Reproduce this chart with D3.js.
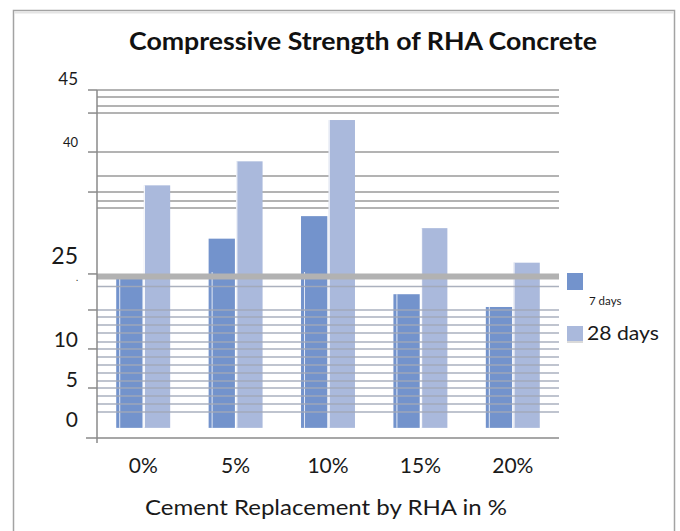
<!DOCTYPE html>
<html><head><meta charset="utf-8">
<script src="https://cdn.jsdelivr.net/npm/d3@7"></script>
<style>body{margin:0;background:#fff}svg{display:block}text{font-family:Lato,"Open Sans",sans-serif}</style>
</head><body>
<svg id="c" width="680" height="531"></svg>
<script>
// ---- data ----
const categories = ["0%", "5%", "10%", "15%", "20%"];
const seriesNames = ["7 days", "28 days"];
const days7 = [20.3, 25.2, 28.2, 17.8, 16.1];
const days28 = [32.3, 35.5, 41.0, 26.6, 22.0];
// tick labels as printed on the (irregular) axis, and the value each sits at
const yTickLabels = ["45", "40", "25", ".", "10", "5", "0"];
const yTickLabelAt = [45.66, 37.4, 21.8, 19.5, 10.8, 5.45, 0.1];
// gridline values (irregular, as in the picture)
const upperGrid = [45, 44.06, 42.86, 41.93, 36.74, 33.54, 31.41, 30.21, 29.28];
const lowerGrid = [18.83, 15.70, 14.77, 13.70, 12.64, 11.44, 10.51, 9.44, 8.38, 7.32, 6.25, 5.31, 4.25, 3.18, 2.12];
const thickLine = [20.16];
const tickMarks = [45, 41.93, 36.74, 31.41, 20.5, 15.70, 10.51, 5.31];
const yMin = -1.35, yMax = 45;

// ---- styles ----
const labelSizes = [17, 13, 23, 9, 21, 21, 21];
const colors = ["#7393cc", "#aab9dc"];

const svg = d3.select("#c");
const L = 97, R = 559, T = 90, B = 438;
const x = d3.scaleBand().domain(categories).range([L, R]).paddingInner(0.416).paddingOuter(0.208);
const xs = d3.scaleBand().domain(seriesNames).range([0, x.bandwidth()]).paddingInner(0.05);
const y = d3.scaleLinear().domain([yMin, yMax]).range([B, T]);

// outer frame
svg.append("rect").attr("x", 13.5).attr("y", 10.5).attr("width", 661).attr("height", 540)
  .attr("fill", "#fff").attr("stroke", "#a3a3a3").attr("stroke-width", 1.5);
svg.append("line").attr("x1", 14).attr("x2", 674).attr("y1", 12.5).attr("y2", 12.5)
  .attr("stroke", "#e4e4e4").attr("stroke-width", 2);

// title
svg.append("text").attr("x", 363).attr("y", 50).attr("text-anchor", "middle")
  .attr("font-weight", "bold").attr("font-size", 25).attr("fill", "#111")
  .attr("textLength", 468).attr("lengthAdjust", "spacingAndGlyphs")
  .text("Compressive Strength of RHA Concrete");

// upper gridlines (behind bars)
svg.append("g").selectAll("line").data(upperGrid).join("line")
  .attr("x1", L).attr("x2", R).attr("y1", d => y(d)).attr("y2", d => y(d))
  .attr("stroke", "#9a9a9a").attr("stroke-width", 1.5);

// bars
const data = categories.map((c, i) => ({ c, vals: [days7[i], days28[i]] }));
const g = svg.append("g").selectAll("g").data(data).join("g")
  .attr("transform", d => `translate(${x(d.c)},0)`);
g.selectAll("rect").data(d => d.vals.map((v, k) => ({ k, v }))).join("rect")
  .attr("x", d => xs(seriesNames[d.k])).attr("width", xs.bandwidth())
  .attr("y", d => y(d.v)).attr("height", d => y(0) - y(d.v))
  .attr("fill", d => colors[d.k]);

// lower gridlines (over bars)
svg.append("g").selectAll("line").data(lowerGrid).join("line")
  .attr("x1", L).attr("x2", R).attr("y1", d => y(d)).attr("y2", d => y(d))
  .attr("stroke", "#a2a9b8").attr("stroke-width", 1.5).attr("opacity", 0.9);

// thick line
svg.append("g").selectAll("line").data(thickLine).join("line")
  .attr("x1", L).attr("x2", R).attr("y1", d => y(d)).attr("y2", d => y(d))
  .attr("stroke", "#b2b2b2").attr("stroke-width", 6);

// white highlight lines on bars
g.append("line")
  .attr("x1", xs(seriesNames[1]) + 0.5).attr("x2", xs(seriesNames[1]) + 0.5)
  .attr("y1", d => y(Math.max(d.vals[1], thickLine[0] + 0.6))).attr("y2", y(0))
  .attr("stroke", "#fff").attr("stroke-width", 1.2).attr("opacity", 0.9);
g.append("line")
  .attr("x1", xs(seriesNames[0]) + 3.5).attr("x2", xs(seriesNames[0]) + 3.5)
  .attr("y1", d => y(Math.min(d.vals[0], thickLine[0] + 0.6))).attr("y2", y(0))
  .attr("stroke", "#fff").attr("stroke-width", 1).attr("opacity", 0.8);

// axes
svg.append("line").attr("x1", L).attr("x2", L).attr("y1", T).attr("y2", B + 5)
  .attr("stroke", "#8a8a8a").attr("stroke-width", 1.5);
svg.append("line").attr("x1", 86).attr("x2", R).attr("y1", B).attr("y2", B)
  .attr("stroke", "#8a8a8a").attr("stroke-width", 1.5);
svg.append("g").selectAll("line").data(tickMarks).join("line")
  .attr("x1", 88).attr("x2", L).attr("y1", d => y(d)).attr("y2", d => y(d))
  .attr("stroke", "#8a8a8a").attr("stroke-width", 1.5);

// y tick labels
svg.append("g").selectAll("text").data(yTickLabels).join("text")
  .attr("x", 78).attr("y", (d, i) => y(yTickLabelAt[i]))
  .attr("text-anchor", "end").attr("font-size", (d, i) => labelSizes[i])
  .attr("fill", "#1a1a1a").text(d => d);

// x labels via axis
const xa = svg.append("g").attr("transform", `translate(0,${B})`)
  .call(d3.axisBottom(x).tickSize(0).tickPadding(0));
xa.select(".domain").remove();
xa.selectAll("text").attr("dy", 0).attr("y", 35).attr("font-size", 21)
  .attr("fill", "#1a1a1a").style("font-family", "Lato, sans-serif");

svg.append("text").attr("x", 326).attr("y", 515).attr("text-anchor", "middle")
  .attr("font-size", 21).attr("fill", "#1a1a1a")
  .attr("textLength", 362).attr("lengthAdjust", "spacingAndGlyphs")
  .text("Cement Replacement by RHA in %");

// legend
const leg = svg.append("g");
leg.append("rect").attr("x", 567).attr("y", 273).attr("width", 16).attr("height", 17).attr("fill", colors[0]);
leg.append("text").attr("x", 589).attr("y", 305).attr("font-size", 11.5).attr("fill", "#1a1a1a").text(seriesNames[0]);
leg.append("rect").attr("x", 567).attr("y", 326).attr("width", 16).attr("height", 15).attr("fill", colors[1]);
leg.append("line").attr("x1", 567).attr("x2", 583).attr("y1", 342).attr("y2", 342).attr("stroke", "#b5b5b5").attr("stroke-width", 1);
leg.append("text").attr("x", 587).attr("y", 340).attr("font-size", 20).attr("fill", "#1a1a1a")
  .attr("textLength", 72).attr("lengthAdjust", "spacingAndGlyphs").text(seriesNames[1]);
</script>
</body></html>
